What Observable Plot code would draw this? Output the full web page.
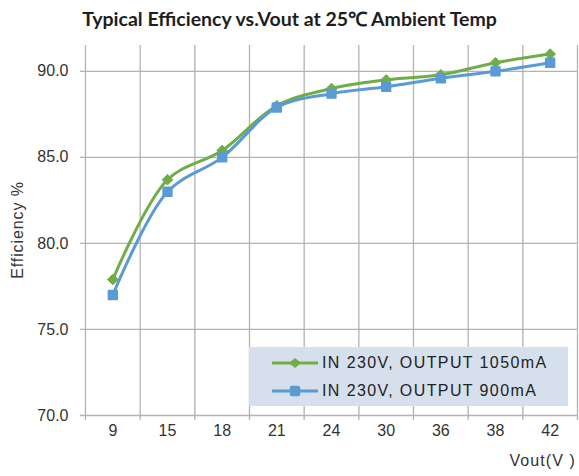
<!DOCTYPE html>
<html><head><meta charset="utf-8">
<script src="https://cdn.jsdelivr.net/npm/d3@7"></script>
<script src="https://cdn.jsdelivr.net/npm/@observablehq/plot@0.6"></script>
<style>
body{margin:0;background:#fff;font-family:"Liberation Sans",Arial,sans-serif;}
#wrap{position:relative;width:579px;height:476px;overflow:hidden;}
#title{height:36px;line-height:38px;text-align:center;font-family:Lato,"Open Sans",sans-serif;font-weight:700;font-size:19.5px;color:#1e1e1e;white-space:nowrap;}
#ylab{position:absolute;left:18px;top:230px;transform:translate(-50%,-50%) rotate(-90deg);font-size:16px;color:#333;white-space:nowrap;letter-spacing:0.9px;}
#xlab{position:absolute;right:3px;top:452px;font-size:16px;color:#333;white-space:nowrap;letter-spacing:1.1px;}
#legend{position:absolute;left:249px;top:347px;width:319px;height:59px;background:#D5E0EC;}
.row{position:absolute;left:23px;height:20px;display:flex;align-items:center;font-size:16px;color:#222;white-space:nowrap;letter-spacing:1.4px;}
.row svg{margin-right:4px;}
</style></head>
<body><div id="wrap">
<div id="title">Typical Efficiency vs.Vout at 25℃ Ambient Temp</div>
<div id="chart"></div>
<div id="ylab">Efficiency %</div>
<div id="xlab">Vout(V )</div>
<div id="legend"></div>
</div>
<script>
const vout = ["9","15","18","21","24","30","36","38","42"];
const eff1050 = [77.9, 83.7, 85.4, 88.0, 89.0, 89.5, 89.8, 90.5, 91.0];
const eff900 = [77.0, 83.0, 85.0, 87.9, 88.7, 89.1, 89.6, 90.0, 90.5];
const yTicks = [70, 75, 80, 85, 90];
const seriesNames = ["IN 230V, OUTPUT 1050mA", "IN 230V, OUTPUT 900mA"];
const green = "#70AD47", blue = "#5B9BD5", gridColor = "#b3b3b3";

const W = 579, H = 440, mL = 85, mR = 2, mT = 9, mB = 61;
const bw = (W - mL - mR) / vout.length;

const chart = Plot.plot({
  width: W, height: H,
  marginLeft: mL, marginRight: mR, marginTop: mT, marginBottom: mB,
  style: {fontSize: "16px", fontFamily: "Liberation Sans, Arial, sans-serif", color: "#333", background: "transparent", overflow: "visible"},
  x: {type: "band", domain: vout, padding: 0, round: false, tickSize: 0, tickPadding: 9, label: null},
  y: {domain: [70, 91.5], ticks: yTicks, tickFormat: d => d.toFixed(1), tickSize: 0, tickPadding: 17, label: null},
  marks: [
    Plot.ruleY(yTicks, {y: d => d, stroke: gridColor, strokeWidth: 1.3, insetLeft: -5}),
    Plot.ruleX(vout, {x: d => d, dx: -bw / 2, stroke: gridColor, strokeWidth: 1.3, insetBottom: -5}),
    Plot.ruleX([vout[vout.length - 1]], {x: d => d, dx: bw / 2, stroke: gridColor, strokeWidth: 1.3, insetBottom: -5}),
    Plot.line(vout, {x: d => d, y: (d, i) => eff1050[i], stroke: green, strokeWidth: 3, curve: "catmull-rom"}),
    Plot.dot(vout, {x: d => d, y: (d, i) => eff1050[i], symbol: "diamond2", r: 4.8, fill: green, stroke: green, strokeWidth: 1}),
    Plot.line(vout, {x: d => d, y: (d, i) => eff900[i], stroke: blue, strokeWidth: 3, curve: "catmull-rom"}),
    Plot.dot(vout, {x: d => d, y: (d, i) => eff900[i], symbol: "square", r: 5, fill: blue, stroke: blue, strokeWidth: 1.5, strokeLinejoin: "round"})
  ]
});
document.getElementById("chart").appendChild(chart);

const lg = document.getElementById("legend");
const swatch = (color, kind) => {
  const m = kind === "diamond"
    ? `<path d="M23,1 L29,6 L23,11 L17,6 Z" fill="${color}"/>`
    : `<rect x="18.5" y="1.5" width="9" height="9" rx="1.5" fill="${color}" stroke="${color}" stroke-width="1.5"/>`;
  return `<svg width="46" height="12"><line x1="0" y1="6" x2="46" y2="6" stroke="${color}" stroke-width="3"/>${m}</svg>`;
};
lg.innerHTML =
  `<div class="row" style="top:6px">${swatch(green, "diamond")}${seriesNames[0]}</div>` +
  `<div class="row" style="top:34px">${swatch(blue, "square")}${seriesNames[1]}</div>`;
</script>
</body></html>
